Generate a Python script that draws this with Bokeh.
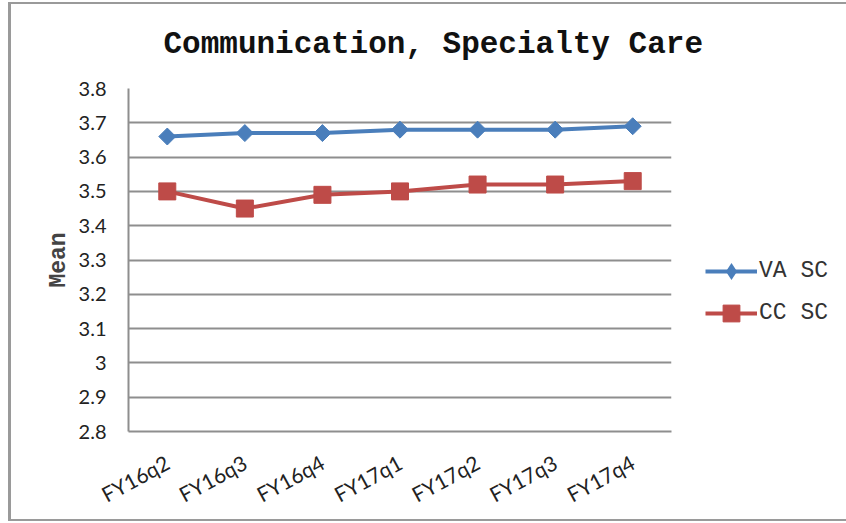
from bokeh.plotting import figure
from bokeh.models import (FactorRange, Range1d, FixedTicker, NumeralTickFormatter,
                          Legend, LegendItem, InlineStyleSheet)
from bokeh.embed import file_html
from bokeh.resources import INLINE
import numpy as np

# Quarterly mean communication scores
quarters = ["FY16q2", "FY16q3", "FY16q4", "FY17q1", "FY17q2", "FY17q3", "FY17q4"]
va_sc = [3.66, 3.67, 3.67, 3.68, 3.68, 3.68, 3.69]
cc_sc = [3.50, 3.45, 3.49, 3.50, 3.52, 3.52, 3.53]
y_ticks = [2.8, 2.9, 3.0, 3.1, 3.2, 3.3, 3.4, 3.5, 3.6, 3.7, 3.8]

title_text = "Communication, Specialty Care"
y_label = "Mean"
series_names = ["VA SC", "CC SC"]

BLUE = "#4A7EBB"
RED = "#BE4B48"
GRID = "#8E8E8E"
MONO = "'Liberation Mono'"
SANS = "Lato"

p = figure(
    width=846, height=523,
    frame_width=543, frame_height=343,
    x_range=FactorRange(factors=quarters, range_padding=0),
    y_range=Range1d(y_ticks[0], y_ticks[-1]),
    output_backend="svg", toolbar_location=None,
    min_border_left=128, min_border_right=175,
    min_border_top=88, min_border_bottom=92,
)
p.outline_line_color = None
p.background_fill_color = "white"
p.border_fill_color = "white"

# chart title
p.title.text = title_text
p.title.text_font = MONO
p.title.text_font_style = "bold"
p.title.text_font_size = "31px"
p.title.text_color = "#111111"
p.title.align = "left"
p.title.vertical_align = "top"
p.title.offset = 35
p.title.standoff = 50

# grid
p.xgrid.grid_line_color = None
p.ygrid.grid_line_color = GRID
p.ygrid.grid_line_width = 2

# y axis
p.yaxis.ticker = FixedTicker(ticks=y_ticks)
p.yaxis.formatter = NumeralTickFormatter(format="0.[0]")
p.yaxis.axis_line_color = GRID
p.yaxis.axis_line_width = 2
p.yaxis.major_tick_line_color = None
p.yaxis.minor_tick_line_color = None
p.yaxis.major_label_text_font = SANS
p.yaxis.major_label_text_font_size = "20px"
p.yaxis.major_label_text_color = "#222222"
p.yaxis.major_label_standoff = 16
p.yaxis.axis_label = y_label
p.yaxis.axis_label_text_font = MONO
p.yaxis.axis_label_text_font_style = "bold"
p.yaxis.axis_label_text_font_size = "23px"
p.yaxis.axis_label_standoff = 4

# x axis
p.xaxis.axis_line_color = GRID
p.xaxis.axis_line_width = 2
p.xaxis.major_tick_line_color = None
p.xaxis.minor_tick_line_color = None
p.xaxis.major_label_orientation = 0.5
p.xaxis.major_label_text_font = SANS
p.xaxis.major_label_text_font_size = "21px"
p.xaxis.major_label_text_color = "#222222"
p.xaxis.major_label_standoff = 23

# series
va_line = p.line(quarters, va_sc, line_color=BLUE, line_width=4)
va_pts = p.scatter(quarters, va_sc, marker="square", angle=np.pi / 4, size=12,
                   fill_color=BLUE, line_color=BLUE)
cc_line = p.line(quarters, cc_sc, line_color=RED, line_width=4)
cc_pts = p.scatter(quarters, cc_sc, marker="square", size=17,
                   fill_color=RED, line_color=RED)
# diamond swatch used only by the legend key (zero size on the chart)
va_key = p.scatter(quarters, va_sc, marker="diamond", size=0,
                   fill_color=BLUE, line_color=None)

legend = Legend(
    items=[LegendItem(label=series_names[0], renderers=[va_line, va_key]),
           LegendItem(label=series_names[1], renderers=[cc_line, cc_pts])],
    location=(34, 97),
    glyph_width=52, glyph_height=42, spacing=-2, label_standoff=2,
    padding=0, margin=0,
    border_line_alpha=0, background_fill_alpha=0,
    label_text_font=MONO, label_text_font_size="23px",
    label_text_color="#333333",
)
p.add_layout(legend, "right")

# outer chart border (left, top and bottom edges)
p.stylesheets = [InlineStyleSheet(css="""
:host::after {
  content: "";
  position: absolute;
  left: 8px; top: 2px; width: 860px; height: 519px;
  box-sizing: border-box;
  border-left: 3px solid #9A9A9A;
  border-top: 2px solid #9A9A9A;
  border-bottom: 2px solid #9A9A9A;
  pointer-events: none;
}
""")]

open("out.html", "w").write(file_html(p, INLINE))
